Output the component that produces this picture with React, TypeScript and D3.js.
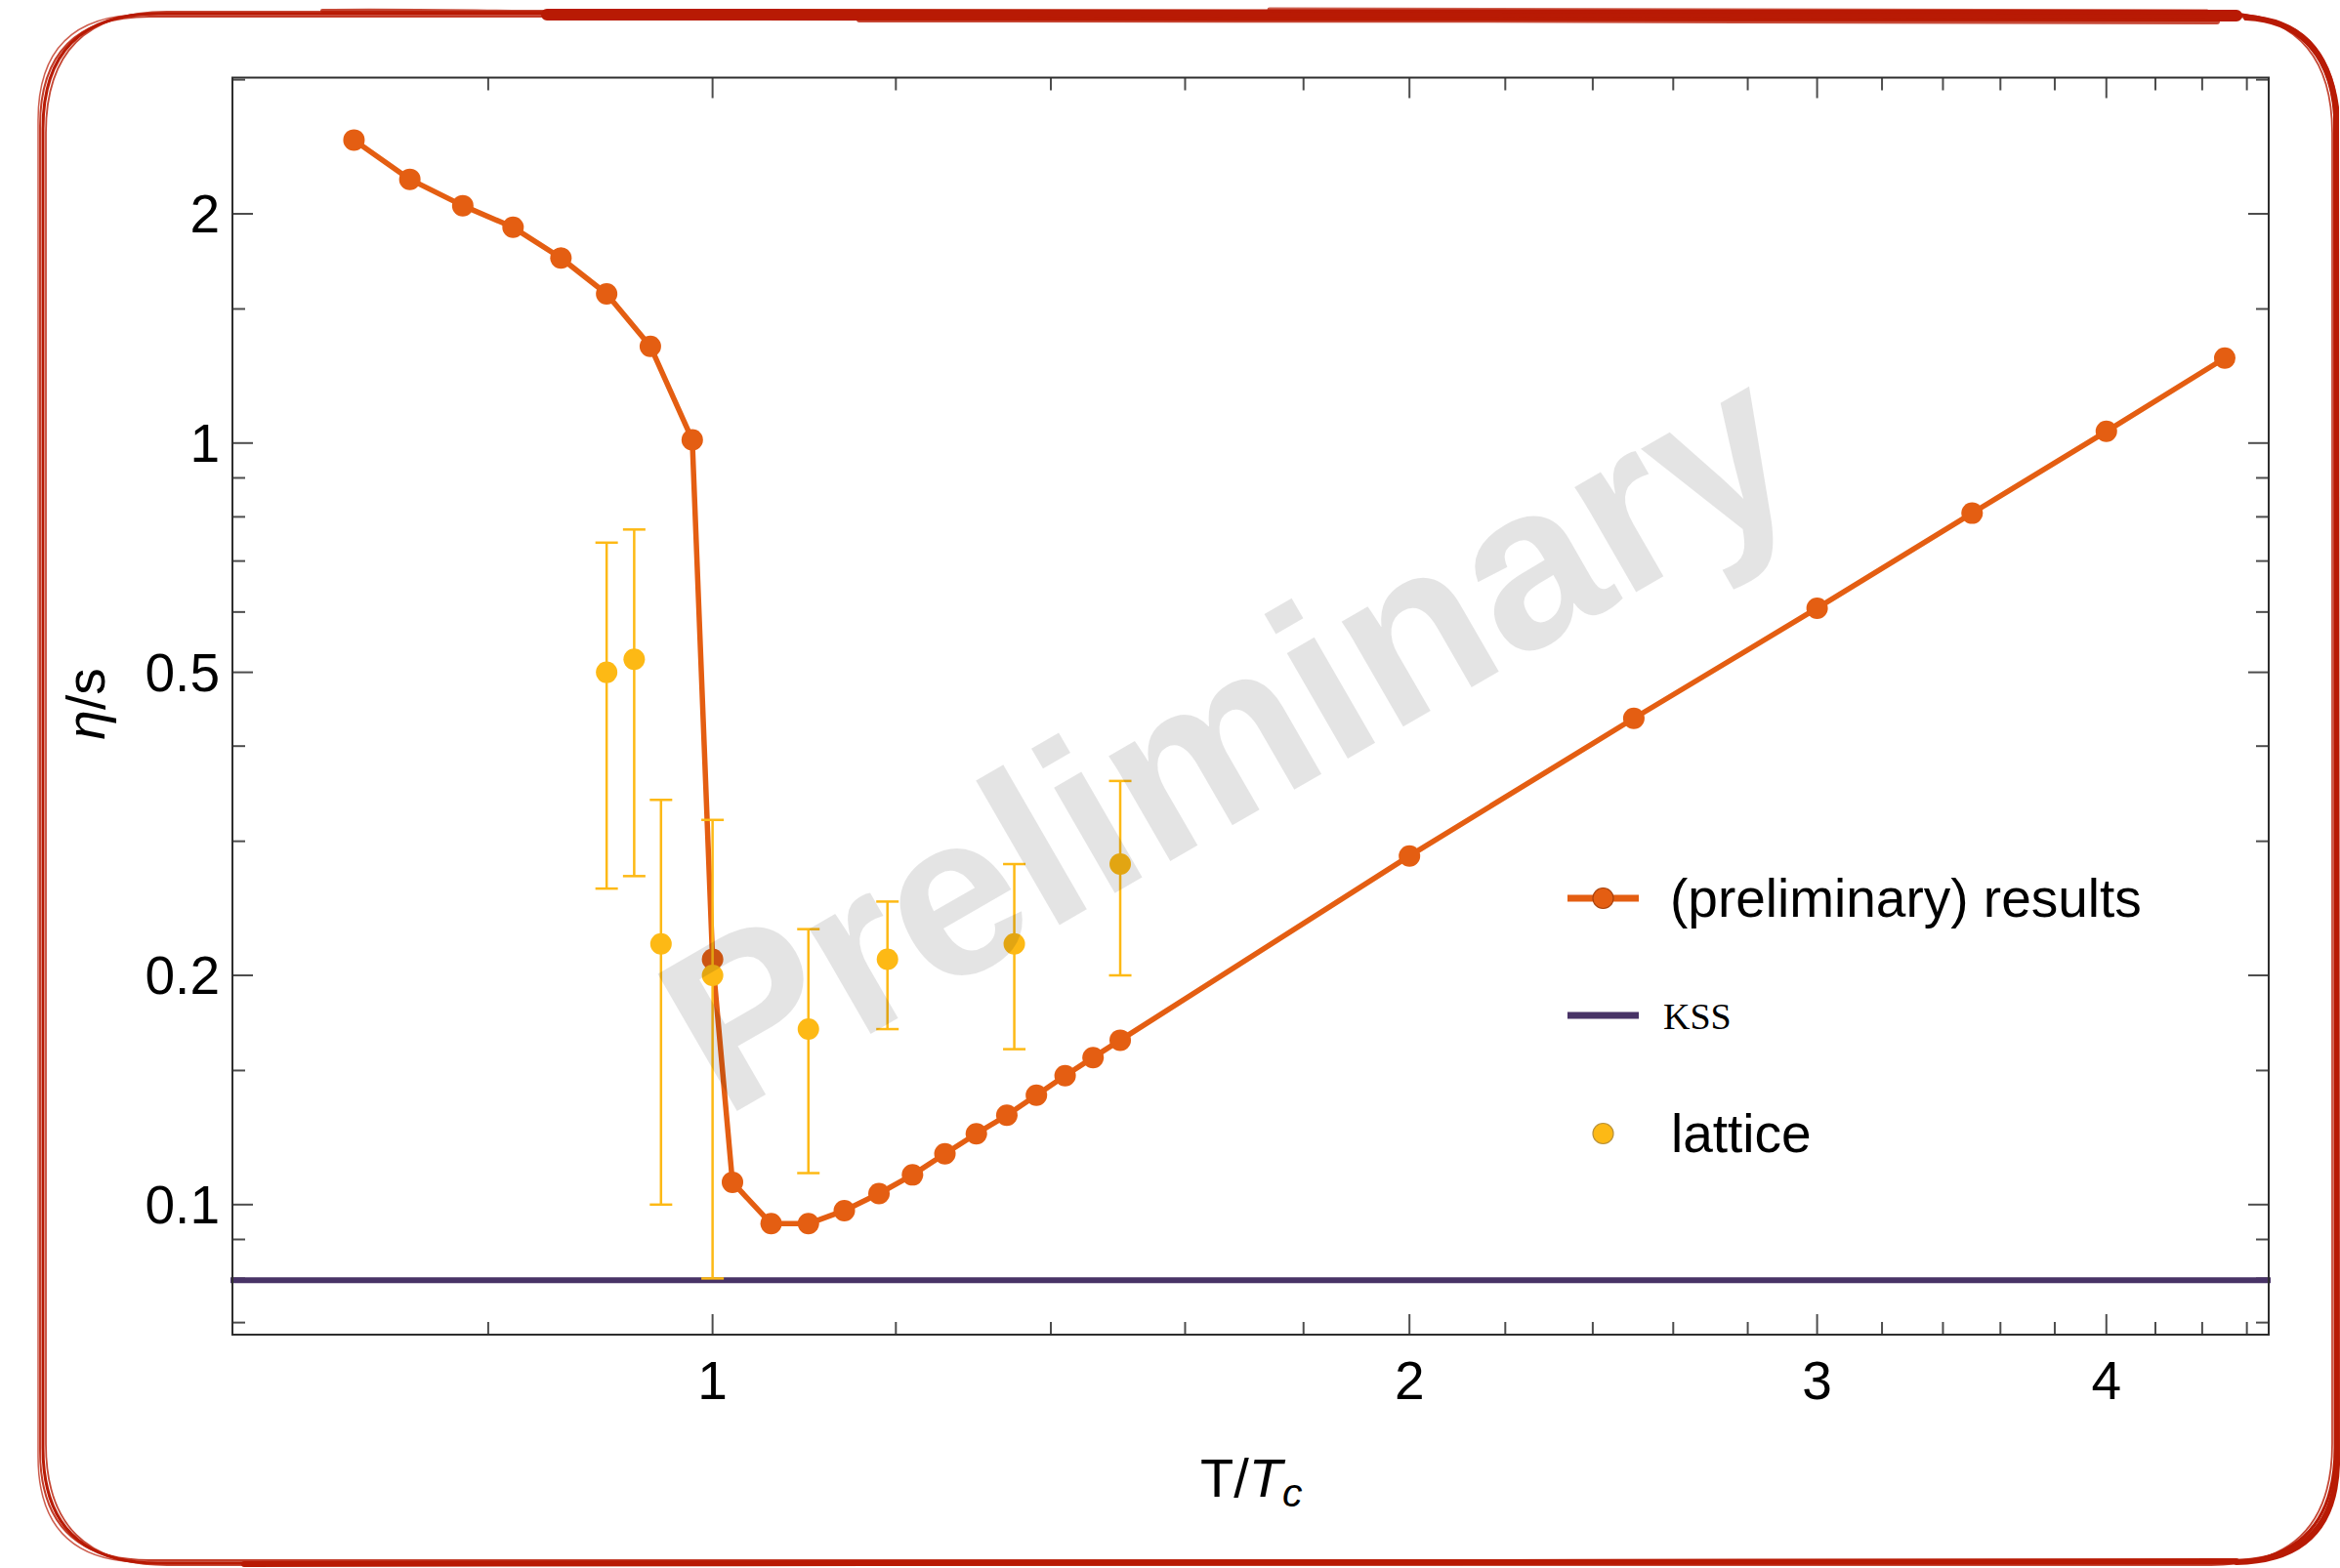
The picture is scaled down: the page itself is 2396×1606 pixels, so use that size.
import React from 'react';
import * as d3 from 'd3';

// ---- data -------------------------------------------------------------
// η/s from the (preliminary) model results, versus T/Tc
const resultsT = [
  0.7, 0.74, 0.78, 0.82, 0.86, 0.9, 0.94, 0.98, 1.0, 1.02, 1.06, 1.1, 1.14, 1.18,
  1.22, 1.26, 1.3, 1.34, 1.38, 1.42, 1.46, 1.5, 2.0, 2.5, 3.0, 3.5, 4.0, 4.5,
];
const resultsEta = [
  2.5, 2.22, 2.05, 1.92, 1.75, 1.57, 1.34, 1.01, 0.21, 0.107, 0.0944, 0.0944, 0.0982,
  0.1034, 0.1094, 0.1166, 0.1239, 0.131, 0.1392, 0.1477, 0.156, 0.1644, 0.287, 0.435,
  0.607, 0.809, 1.036, 1.293,
];

// lattice estimates with error bars
const latticeT = [0.9, 0.925, 0.95, 1.0, 1.1, 1.19, 1.35, 1.5];
const latticeEta = [0.5, 0.52, 0.22, 0.2, 0.17, 0.21, 0.22, 0.28];
const latticeHi = [0.74, 0.77, 0.34, 0.32, 0.23, 0.25, 0.28, 0.36];
const latticeLo = [0.26, 0.27, 0.1, 0.08, 0.11, 0.17, 0.16, 0.2];

// KSS bound 1/(4π)
const kssBound = 1 / (4 * Math.PI);

// ticks
const xMajor = [1, 2, 3, 4];
const xMinor = [0.8, 1.2, 1.4, 1.6, 1.8, 2.2, 2.4, 2.6, 2.8, 3.2, 3.4, 3.6, 3.8, 4.2, 4.4, 4.6];
const yMajor = [0.1, 0.2, 0.5, 1, 2];
const yMinor = [0.07, 0.08, 0.09, 0.15, 0.3, 0.4, 0.6, 0.7, 0.8, 0.9, 1.5, 3];

const legendLabels = ['(preliminary) results', 'KSS', 'lattice'];

// ---- styling ----------------------------------------------------------
const W = 2396;
const H = 1606;
const frame = { left: 238, right: 2323, top: 79.5, bottom: 1367 };
const ORANGE = '#E45E12';
const AMBER = '#FDB915';
const PURPLE = '#483366';
const RED = '#B81A04';
const SANS = '"Liberation Sans", Arial, Helvetica, sans-serif';
const SERIF = '"Liberation Serif", "Times New Roman", serif';

function roundedRect(x0: number, y0: number, x1: number, y1: number, r: number) {
  return `M${x0 + r},${y0} L${x1 - r},${y0} Q${x1},${y0} ${x1},${y0 + r} L${x1},${y1 - r} Q${x1},${y1} ${x1 - r},${y1} L${x0 + r},${y1} Q${x0},${y1} ${x0},${y1 - r} L${x0},${y0 + r} Q${x0},${y0} ${x0 + r},${y0} Z`;
}

// hand-drawn looking outline: a few slightly offset passes
const borderPasses = [
  { d: [44, 14, 2391, 1601], r: 118, w: 3, o: 1 },
  { d: [41, 17, 2394, 1598], r: 112, w: 2, o: 0.85 },
  { d: [47, 12, 2388, 1603], r: 124, w: 1.8, o: 0.8 },
  { d: [39, 15, 2392, 1600], r: 108, w: 1.5, o: 0.7 },
];

function Border() {
  return (
    <g fill="none" stroke={RED} strokeLinecap="round">
      {borderPasses.map((p, i) => (
        <path key={i} d={roundedRect(p.d[0], p.d[1], p.d[2], p.d[3], p.r)} strokeWidth={p.w} opacity={p.o} />
      ))}
      {/* heavier brush strokes along the top, right and bottom edges */}
      <path d="M560,15 C1000,13 1600,12 2290,16" strokeWidth={12} />
      <path d="M880,20 C1300,21 1900,19 2270,22" strokeWidth={6} opacity={0.8} />
      <path d="M1300,10 C1700,9 2000,10 2260,12" strokeWidth={5} opacity={0.7} />
      <path d="M330,11 C420,10 500,12 560,12" strokeWidth={4} opacity={0.8} />
      <path d="M2300,18 Q2380,22 2392,110 L2393,1500 Q2390,1598 2290,1600" strokeWidth={6} />
      <path d="M250,1602 C800,1600 1600,1600 2290,1599" strokeWidth={6} />
    </g>
  );
}

export default function App() {
  const x = d3.scaleLog().domain([0.6203, 4.701]).range([frame.left, frame.right]);
  const y = d3.scaleLog().domain([0.06749, 3.019]).range([frame.bottom, frame.top]);

  const results = resultsT.map((t, i) => ({ t, v: resultsEta[i] }));
  const lattice = latticeT.map((t, i) => ({ t, v: latticeEta[i], hi: latticeHi[i], lo: latticeLo[i] }));

  const line = d3
    .line<{ t: number; v: number }>()
    .x((d) => x(d.t))
    .y((d) => y(d.v));

  const majorLen = 21;
  const minorLen = 13;
  const tickColor = '#4d4d4d';

  const xTicks = [
    ...xMajor.map((v) => ({ v, len: majorLen })),
    ...xMinor.map((v) => ({ v, len: minorLen })),
  ];
  const yTicks = [
    ...yMajor.map((v) => ({ v, len: majorLen })),
    ...yMinor.map((v) => ({ v, len: minorLen })),
  ];

  const legX0 = 1605;
  const legX1 = 1678;
  const legXm = (legX0 + legX1) / 2;
  const legRows = [920, 1040, 1161];

  return (
    <div style={{ position: 'absolute', left: 0, top: 0 }}>
      <svg width={W} height={H} viewBox={`0 0 ${W} ${H}`} style={{ display: 'block', background: '#fff' }}>
        <rect x={0} y={0} width={W} height={H} fill="#fff" />
        <Border />

        {/* ticks on all four sides */}
        <g stroke={tickColor} strokeWidth={2}>
          {xTicks.map((t, i) => (
            <g key={'x' + i}>
              <line x1={x(t.v)} x2={x(t.v)} y1={frame.bottom} y2={frame.bottom - t.len} />
              <line x1={x(t.v)} x2={x(t.v)} y1={frame.top} y2={frame.top + t.len} />
            </g>
          ))}
          {yTicks.map((t, i) => (
            <g key={'y' + i}>
              <line x1={frame.left} x2={frame.left + t.len} y1={y(t.v)} y2={y(t.v)} />
              <line x1={frame.right} x2={frame.right - t.len} y1={y(t.v)} y2={y(t.v)} />
            </g>
          ))}
        </g>

        {/* KSS bound */}
        <line
          x1={frame.left - 2}
          x2={frame.right + 2}
          y1={y(kssBound)}
          y2={y(kssBound)}
          stroke={PURPLE}
          strokeWidth={6}
        />

        {/* results */}
        <path d={line(results) || ''} fill="none" stroke={ORANGE} strokeWidth={5.5} strokeLinejoin="round" />
        {results.map((d, i) => (
          <circle key={'r' + i} cx={x(d.t)} cy={y(d.v)} r={11} fill={ORANGE} />
        ))}

        {/* lattice with error bars */}
        <g stroke={AMBER} strokeWidth={2.5}>
          {lattice.map((d, i) => (
            <g key={'e' + i}>
              <line x1={x(d.t)} x2={x(d.t)} y1={y(d.lo)} y2={y(d.hi)} />
              <line x1={x(d.t) - 11.5} x2={x(d.t) + 11.5} y1={y(d.lo)} y2={y(d.lo)} />
              <line x1={x(d.t) - 11.5} x2={x(d.t) + 11.5} y1={y(d.hi)} y2={y(d.hi)} />
            </g>
          ))}
        </g>
        {lattice.map((d, i) => (
          <circle key={'l' + i} cx={x(d.t)} cy={y(d.v)} r={11} fill={AMBER} />
        ))}

        {/* frame */}
        <rect
          x={frame.left}
          y={frame.top}
          width={frame.right - frame.left}
          height={frame.bottom - frame.top}
          fill="none"
          stroke="#2e2e2e"
          strokeWidth={2}
        />

        {/* watermark */}
        <text
          transform="translate(741,1146) rotate(-30)"
          fontFamily={SANS}
          fontWeight="bold"
          fontSize={236}
          fill="#000"
          fillOpacity={0.105}
        >
          Preliminary
        </text>

        {/* tick labels */}
        <g fontFamily={SANS} fontSize={55} fill="#000">
          {xMajor.map((v) => (
            <text key={'xl' + v} x={x(v)} y={1433} textAnchor="middle">
              {d3.format('~g')(v)}
            </text>
          ))}
          {yMajor.map((v) => (
            <text key={'yl' + v} x={225} y={y(v) + 19} textAnchor="end">
              {d3.format('~g')(v)}
            </text>
          ))}
        </g>

        {/* axis labels */}
        <text x={1229} y={1533} fontFamily={SANS} fontSize={56} fill="#000">
          T/<tspan fontStyle="italic">T</tspan>
          <tspan fontStyle="italic" fontSize={41} dy={10}>c</tspan>
        </text>
        <text
          transform="translate(107,721) rotate(-90)"
          textAnchor="middle"
          fontFamily={SANS}
          fontSize={55}
          fill="#000"
        >
          <tspan fontStyle="italic">η</tspan>/s
        </text>

        {/* legend */}
        <g>
          <line x1={legX0} x2={legX1} y1={legRows[0]} y2={legRows[0]} stroke={ORANGE} strokeWidth={7} />
          <circle cx={legXm} cy={legRows[0]} r={10.5} fill={ORANGE} stroke="#a9420c" strokeWidth={1.2} />
          <text x={1710} y={legRows[0] + 19} fontFamily={SANS} fontSize={55} fill="#000">
            {legendLabels[0]}
          </text>

          <line x1={legX0} x2={legX1} y1={legRows[1]} y2={legRows[1]} stroke={PURPLE} strokeWidth={7} />
          <text x={1703} y={legRows[1] + 14} fontFamily={SERIF} fontSize={38} fill="#000">
            {legendLabels[1]}
          </text>

          <circle cx={legXm} cy={legRows[2]} r={10.5} fill={AMBER} stroke="#b8913a" strokeWidth={1.2} />
          <text x={1711} y={legRows[2] + 19} fontFamily={SANS} fontSize={55} fill="#000">
            {legendLabels[2]}
          </text>
        </g>
      </svg>
    </div>
  );
}
